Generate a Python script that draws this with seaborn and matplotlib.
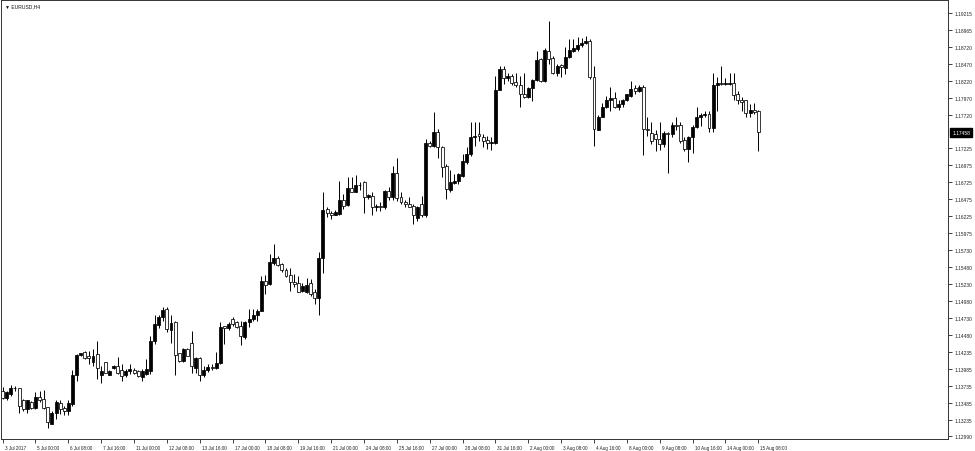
import matplotlib
matplotlib.use("Agg")
import matplotlib.pyplot as plt
import matplotlib.transforms as mtrans
import numpy as np
import pandas as pd
import seaborn as sns

sns.set_style("ticks")
plt.rcParams["font.family"] = ["Liberation Sans", "DejaVu Sans"]

symbol = "EURUSD,H4"
last_price = 1.17458

# H4 candles, 3 Jul 2017 16:00 .. 15 Aug 2017 08:00
opens = [
    1.1366, 1.1355, 1.1361, 1.1371, 1.1370, 1.1353, 1.1339, 1.1349, 1.1341, 1.1357,
    1.1354, 1.1342, 1.1318, 1.1334, 1.1348, 1.1341, 1.1336, 1.1347, 1.1390, 1.1419,
    1.1423, 1.1417, 1.1408, 1.1420, 1.1390, 1.1408, 1.1390, 1.1399, 1.1403, 1.1397,
    1.1390, 1.1395, 1.1397, 1.1395, 1.1387, 1.1391, 1.1395, 1.1439, 1.1463, 1.1474,
    1.1487, 1.1456, 1.1467, 1.1421, 1.1410, 1.1428, 1.1436, 1.1400, 1.1415, 1.1389,
    1.1396, 1.1401, 1.1400, 1.1407, 1.1461, 1.1458, 1.1471, 1.1467, 1.1461, 1.1445,
    1.1467, 1.1471, 1.1477, 1.1484, 1.1527, 1.1523, 1.1554, 1.1562, 1.1552, 1.1543,
    1.1536, 1.1526, 1.1525, 1.1513, 1.1512, 1.1525, 1.1512, 1.1502, 1.1561, 1.1634,
    1.1628, 1.1625, 1.1626, 1.1647, 1.1639, 1.1664, 1.1659, 1.1669, 1.1673, 1.1651,
    1.1653, 1.1636, 1.1638, 1.1636, 1.1660, 1.1651, 1.1686, 1.1651, 1.1644, 1.1641,
    1.1638, 1.1620, 1.1640, 1.1624, 1.1731, 1.1726, 1.1747, 1.1725, 1.1696, 1.1661,
    1.1672, 1.1674, 1.1682, 1.1702, 1.1714, 1.1739, 1.1744, 1.1739, 1.1735, 1.1730,
    1.1731, 1.1808, 1.1839, 1.1826, 1.1829, 1.1820, 1.1816, 1.1803, 1.1798, 1.1811,
    1.1823, 1.1854, 1.1822, 1.1866, 1.1856, 1.1833, 1.1845, 1.1841, 1.1857, 1.1866,
    1.1868, 1.1874, 1.1877, 1.1881, 1.1828, 1.1750, 1.1769, 1.1783, 1.1793, 1.1796,
    1.1784, 1.1787, 1.1793, 1.1800, 1.1811, 1.1807, 1.1813, 1.1751, 1.1745, 1.1743,
    1.1737, 1.1729, 1.1745, 1.1743, 1.1757, 1.1757, 1.1735, 1.1722, 1.1739, 1.1754,
    1.1768, 1.1771, 1.1773, 1.1753, 1.1815, 1.1818, 1.1817, 1.1817, 1.1818, 1.1802,
    1.1794, 1.1793, 1.1775, 1.1779, 1.1777,
]
highs = [
    1.1372, 1.1366, 1.1375, 1.1373, 1.1371, 1.1354, 1.1353, 1.1351, 1.1364, 1.1366,
    1.1367, 1.1343, 1.1336, 1.1352, 1.1352, 1.1344, 1.1352, 1.1397, 1.1420, 1.1422,
    1.1424, 1.1425, 1.1428, 1.1439, 1.1403, 1.1409, 1.1396, 1.1404, 1.1416, 1.1406,
    1.1398, 1.1406, 1.1399, 1.1396, 1.1398, 1.1413, 1.1447, 1.1477, 1.1477, 1.1489,
    1.1489, 1.1478, 1.1469, 1.1422, 1.1429, 1.1429, 1.1454, 1.1416, 1.1416, 1.1403,
    1.1406, 1.1406, 1.1423, 1.1468, 1.1462, 1.1467, 1.1474, 1.1469, 1.1469, 1.1469,
    1.1486, 1.1486, 1.1486, 1.1535, 1.1537, 1.1567, 1.1582, 1.1565, 1.1554, 1.1547,
    1.1547, 1.1538, 1.1535, 1.1525, 1.1532, 1.1530, 1.1516, 1.1570, 1.1658, 1.1636,
    1.1631, 1.1632, 1.1675, 1.1656, 1.1680, 1.1681, 1.1683, 1.1673, 1.1675, 1.1656,
    1.1658, 1.1640, 1.1643, 1.1662, 1.1665, 1.1697, 1.1709, 1.1658, 1.1646, 1.1651,
    1.1641, 1.1638, 1.1653, 1.1737, 1.1734, 1.1776, 1.1751, 1.1726, 1.1700, 1.1690,
    1.1685, 1.1687, 1.1714, 1.1724, 1.1762, 1.1761, 1.1761, 1.1744, 1.1741, 1.1739,
    1.1829, 1.1844, 1.1844, 1.1834, 1.1832, 1.1833, 1.1829, 1.1834, 1.1813, 1.1824,
    1.1865, 1.1856, 1.1870, 1.1909, 1.1859, 1.1846, 1.1847, 1.1871, 1.1883, 1.1883,
    1.1886, 1.1885, 1.1887, 1.1883, 1.1844, 1.1771, 1.1789, 1.1800, 1.1812, 1.1806,
    1.1793, 1.1795, 1.1803, 1.1821, 1.1815, 1.1815, 1.1815, 1.1768, 1.1762, 1.1749,
    1.1761, 1.1748, 1.1746, 1.1761, 1.1769, 1.1761, 1.1739, 1.1741, 1.1757, 1.1783,
    1.1774, 1.1777, 1.1777, 1.1833, 1.1827, 1.1844, 1.1826, 1.1833, 1.1833, 1.1807,
    1.1798, 1.1794, 1.1788, 1.1789, 1.1779,
]
lows = [
    1.1354, 1.1353, 1.1359, 1.1366, 1.1334, 1.1336, 1.1333, 1.1339, 1.1340, 1.1349,
    1.1340, 1.1311, 1.1317, 1.1325, 1.1332, 1.1330, 1.1330, 1.1344, 1.1381, 1.1418,
    1.1413, 1.1406, 1.1403, 1.1384, 1.1378, 1.1392, 1.1389, 1.1398, 1.1391, 1.1381,
    1.1386, 1.1391, 1.1391, 1.1387, 1.1381, 1.1389, 1.1391, 1.1435, 1.1459, 1.1469,
    1.1452, 1.1437, 1.1390, 1.1409, 1.1409, 1.1417, 1.1393, 1.1393, 1.1381, 1.1386,
    1.1394, 1.1396, 1.1398, 1.1406, 1.1435, 1.1456, 1.1462, 1.1458, 1.1433, 1.1443,
    1.1460, 1.1469, 1.1469, 1.1483, 1.1509, 1.1521, 1.1551, 1.1550, 1.1541, 1.1533,
    1.1513, 1.1518, 1.1511, 1.1511, 1.1510, 1.1506, 1.1494, 1.1478, 1.1540, 1.1621,
    1.1618, 1.1624, 1.1625, 1.1634, 1.1638, 1.1658, 1.1658, 1.1661, 1.1628, 1.1648,
    1.1624, 1.1630, 1.1631, 1.1634, 1.1646, 1.1646, 1.1645, 1.1641, 1.1637, 1.1636,
    1.1611, 1.1616, 1.1621, 1.1622, 1.1724, 1.1724, 1.1709, 1.1680, 1.1648, 1.1658,
    1.1670, 1.1670, 1.1680, 1.1700, 1.1712, 1.1726, 1.1734, 1.1725, 1.1722, 1.1720,
    1.1729, 1.1808, 1.1817, 1.1822, 1.1815, 1.1812, 1.1783, 1.1797, 1.1796, 1.1792,
    1.1822, 1.1820, 1.1820, 1.1847, 1.1832, 1.1829, 1.1828, 1.1832, 1.1856, 1.1864,
    1.1865, 1.1872, 1.1876, 1.1825, 1.1726, 1.1749, 1.1768, 1.1782, 1.1778, 1.1782,
    1.1779, 1.1784, 1.1792, 1.1798, 1.1802, 1.1805, 1.1713, 1.1741, 1.1729, 1.1718,
    1.1720, 1.1724, 1.1687, 1.1739, 1.1749, 1.1731, 1.1719, 1.1702, 1.1715, 1.1753,
    1.1756, 1.1768, 1.1746, 1.1746, 1.1778, 1.1815, 1.1815, 1.1815, 1.1793, 1.1787,
    1.1778, 1.1768, 1.1769, 1.1773, 1.1719,
]
closes = [
    1.1355, 1.1364, 1.1371, 1.1370, 1.1344, 1.1339, 1.1352, 1.1341, 1.1357, 1.1352,
    1.1341, 1.1320, 1.1334, 1.1349, 1.1339, 1.1336, 1.1348, 1.1390, 1.1419, 1.1421,
    1.1414, 1.1414, 1.1418, 1.1400, 1.1395, 1.1393, 1.1395, 1.1403, 1.1392, 1.1388,
    1.1395, 1.1398, 1.1392, 1.1388, 1.1395, 1.1398, 1.1440, 1.1464, 1.1475, 1.1485,
    1.1457, 1.1466, 1.1419, 1.1410, 1.1428, 1.1418, 1.1402, 1.1415, 1.1389, 1.1396,
    1.1401, 1.1400, 1.1407, 1.1460, 1.1458, 1.1465, 1.1464, 1.1460, 1.1447, 1.1468,
    1.1471, 1.1478, 1.1484, 1.1527, 1.1522, 1.1555, 1.1562, 1.1551, 1.1543, 1.1535,
    1.1526, 1.1523, 1.1512, 1.1520, 1.1522, 1.1508, 1.1502, 1.1561, 1.1632, 1.1628,
    1.1625, 1.1629, 1.1647, 1.1638, 1.1664, 1.1659, 1.1669, 1.1668, 1.1651, 1.1654,
    1.1636, 1.1638, 1.1636, 1.1660, 1.1651, 1.1686, 1.1650, 1.1643, 1.1640, 1.1637,
    1.1624, 1.1636, 1.1624, 1.1730, 1.1726, 1.1747, 1.1725, 1.1695, 1.1663, 1.1673,
    1.1675, 1.1685, 1.1704, 1.1714, 1.1739, 1.1741, 1.1740, 1.1734, 1.1730, 1.1732,
    1.1808, 1.1839, 1.1826, 1.1829, 1.1818, 1.1815, 1.1802, 1.1798, 1.1811, 1.1823,
    1.1852, 1.1822, 1.1867, 1.1854, 1.1833, 1.1844, 1.1842, 1.1857, 1.1867, 1.1870,
    1.1874, 1.1878, 1.1881, 1.1828, 1.1751, 1.1769, 1.1784, 1.1794, 1.1796, 1.1784,
    1.1788, 1.1794, 1.1802, 1.1810, 1.1807, 1.1813, 1.1751, 1.1749, 1.1733, 1.1737,
    1.1729, 1.1745, 1.1744, 1.1757, 1.1755, 1.1734, 1.1722, 1.1739, 1.1754, 1.1769,
    1.1772, 1.1773, 1.1753, 1.1815, 1.1818, 1.1817, 1.1818, 1.1819, 1.1801, 1.1794,
    1.1790, 1.1774, 1.1779, 1.1776, 1.1746,
]

x_labels = [
    "3 Jul 2017", "5 Jul 00:00", "6 Jul 08:00", "7 Jul 16:00", "11 Jul 00:00",
    "12 Jul 08:00", "13 Jul 16:00", "17 Jul 00:00", "18 Jul 08:00", "19 Jul 16:00",
    "21 Jul 00:00", "24 Jul 08:00", "25 Jul 16:00", "27 Jul 00:00", "28 Jul 08:00",
    "31 Jul 16:00", "2 Aug 00:00", "3 Aug 08:00", "4 Aug 16:00", "8 Aug 00:00",
    "9 Aug 08:00", "10 Aug 16:00", "14 Aug 00:00", "15 Aug 08:00",
]
y_ticks = [
    1.19215, 1.18965, 1.18720, 1.18470, 1.18220, 1.17970, 1.17720, 1.17225,
    1.16975, 1.16725, 1.16475, 1.16225, 1.15975, 1.15730, 1.15480, 1.15230,
    1.14980, 1.14730, 1.14480, 1.14235, 1.13985, 1.13735, 1.13485, 1.13235,
    1.12990,
]

df = pd.DataFrame({"open": opens, "high": highs, "low": lows, "close": closes})
df["bar"] = np.arange(len(df))
df["up"] = df["close"] >= df["open"]
df["body_low"] = df[["open", "close"]].min(axis=1)
df["body_h"] = (df["close"] - df["open"]).abs().clip(lower=0.00003)

fig = plt.figure(figsize=(9.75, 4.52), dpi=100)
ax = fig.add_axes([1 / 975, 12 / 452, 947 / 975, 439 / 452])

# wicks first, bodies on top
ax.vlines(df["bar"], df["low"], df["high"], color="black", linewidth=0.7, zorder=1)
ax.bar(
    df["bar"],
    df["body_h"],
    bottom=df["body_low"],
    width=0.72,
    color=np.where(df["up"], "black", "white"),
    edgecolor="black",
    linewidth=0.55,
    zorder=2,
)

ax.set_xlim(-0.4, 230.2)
ax.set_ylim(1.12953, 1.19406)

ax.set_xticks(np.arange(0, len(df), 8))
ax.set_xticklabels(x_labels, ha="left", fontsize=3.3)
ax.tick_params(axis="x", direction="out", length=3, width=0.6, pad=1.5, colors="#222222")
shift = mtrans.ScaledTranslation(2 / 100, 0, fig.dpi_scale_trans)
for lbl in ax.get_xticklabels():
    lbl.set_transform(lbl.get_transform() + shift)

ax.yaxis.tick_right()
ax.set_yticks(y_ticks)
ax.set_yticklabels([f"{v:.5f}" for v in y_ticks], fontsize=3.5)
ax.tick_params(axis="y", direction="out", length=3, width=0.6, pad=2, colors="#222222")

for sp in ax.spines.values():
    sp.set_visible(True)
    sp.set_linewidth(0.7)
    sp.set_color("#333333")

# current price tag
ax.annotate(
    f"{last_price:.5f}",
    xy=(1.0, last_price),
    xycoords=("axes fraction", "data"),
    xytext=(3, 0),
    textcoords="offset points",
    va="center",
    ha="left",
    fontsize=3.5,
    color="white",
    bbox=dict(boxstyle="square,pad=0.35", fc="black", ec="black"),
)

ax.text(0.004, 0.993, "\u25bc " + symbol, transform=ax.transAxes, fontsize=3.6,
        va="top", ha="left", color="#111111")

ax.set_xlabel("")
ax.set_ylabel("")

fig.savefig("out.png", dpi=100, facecolor="white")
